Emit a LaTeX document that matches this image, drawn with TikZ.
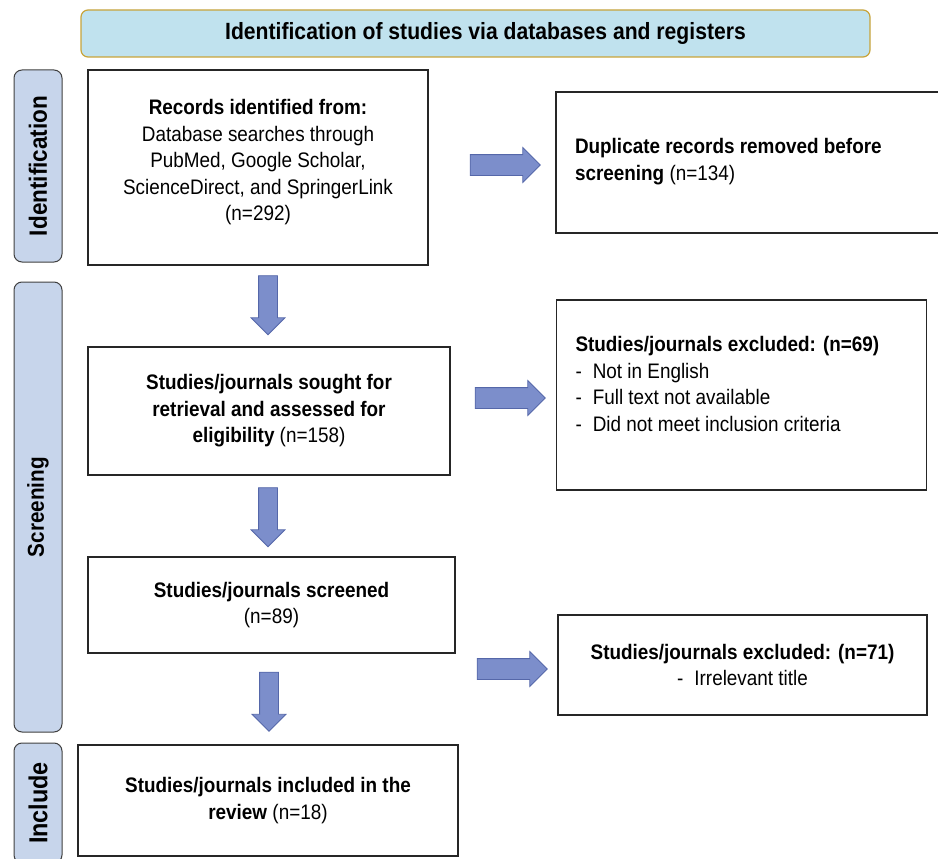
\documentclass[tikz,border=0pt]{standalone}
\usepackage{fontspec}
\setmainfont{Liberation Sans}[FakeStretch=0.9]
\usetikzlibrary{shapes.arrows,positioning}
\definecolor{hdrfill}{HTML}{C0E2EE}
\definecolor{hdrline}{HTML}{C8A43A}
\definecolor{phasefill}{HTML}{C7D5EB}
\definecolor{arrfill}{HTML}{7C8ECB}
\definecolor{arrline}{HTML}{5567A9}
\begin{document}
\begin{tikzpicture}[x=1pt,y=-1pt,font=\fontsize{21}{26.5}\selectfont,
	box/.style={draw=black!85,line width=1.3pt,fill=white,align=flush center,inner sep=0pt},
	sidebox/.style={draw=black!85,line width=1.3pt,fill=white,align=flush left,inner xsep=19pt,inner ysep=0pt},
	phase/.style={draw=black!75,fill=phasefill,line width=1pt,rounded corners=8pt,rotate=90,
		minimum height=48pt,inner sep=0pt,font=\fontsize{25}{28}\selectfont\bfseries},
	rarrow/.style={single arrow,draw=arrline,fill=arrfill,line width=0.8pt,inner xsep=0pt,inner ysep=10pt,
		minimum height=70pt,minimum width=34pt,single arrow head extend=7pt},
	darrow/.style={single arrow,draw=arrline,fill=arrfill,line width=0.8pt,inner sep=9pt,
		shape border rotate=270,minimum height=59pt,minimum width=33pt,single arrow head extend=7.5pt}]
	\useasboundingbox (0,0) rectangle (938,859);
	% header
	\node[draw=hdrline,fill=hdrfill,line width=1.2pt,rounded corners=7pt,minimum width=789pt,minimum height=47pt,
		font=\fontsize{23.5}{26}\selectfont\bfseries](hdr) at (475.5,33.5){\hspace{20pt}Identification of studies via databases and registers};
	% phases
	\node[phase,minimum width=192pt](pid) at (38,166){Identification};
	\node[phase,minimum width=450pt,font=\fontsize{23}{26}\selectfont\bfseries](pscr) at (38,507){Screening};
	\node[phase,minimum width=120pt,font=\fontsize{26}{28}\selectfont\bfseries](pinc) at (38,803){Include};
	% main column
	\node[box,minimum width=340pt,minimum height=195pt](rec) at (258,167.5){\textbf{Records identified from:}\\Database searches through\\PubMed, Google Scholar,\\ScienceDirect, and SpringerLink\\(n=292)\rule[-15pt]{0pt}{15pt}};
	\node[box,minimum width=362pt,minimum height=128pt](sought) at (269,411){\textbf{Studies/journals sought for}\\\textbf{retrieval and assessed for}\\\textbf{eligibility} (n=158)};
	\node[box,minimum width=367pt,minimum height=96pt](scr) at (271.5,605){\textbf{Studies/journals screened}\\(n=89)};
	\node[box,minimum width=380pt,minimum height=111pt](inc) at (268,800.5){\textbf{Studies/journals included in the}\\\textbf{review} (n=18)};
	% side column
	\node[sidebox,text width=366pt,minimum height=141pt](dup) at (758,162.5){\textbf{Duplicate records removed before}\\\textbf{screening} (n=134)\rule[-6pt]{0pt}{6pt}};
	\node[sidebox,text width=332pt,minimum height=190pt](ex69) at (741.5,395){\textbf{Studies/journals excluded: (n=69)}\\-\hspace{11pt}Not in English\\-\hspace{11pt}Full text not available\\-\hspace{11pt}Did not meet inclusion criteria\rule[-22pt]{0pt}{22pt}};
	\node[box,minimum width=369pt,minimum height=100pt](ex71) at (742.5,665){\textbf{Studies/journals excluded: (n=71)}\\-\hspace{11pt}Irrelevant title};
	% arrows
	\node[rarrow](a1) at (500,165){};
	\node[rarrow](a2) at (505,398){};
	\node[rarrow](a3) at (507,669){};
	\node[darrow](d1) at (268,300.5){};
	\node[darrow](d2) at (268,512.5){};
	\node[darrow](d3) at (269,697){};
\end{tikzpicture}
\end{document}
